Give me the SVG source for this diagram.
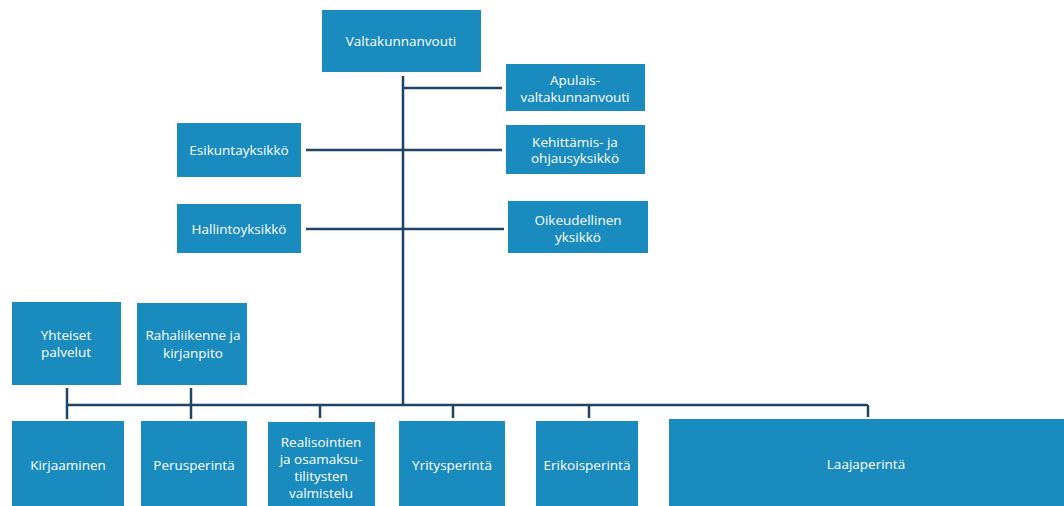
<svg xmlns="http://www.w3.org/2000/svg" width="1064" height="506" viewBox="0 0 1064 506">
<style>
.box{fill:#1a8bbf;}
.t{font-family:"Open Sans","Liberation Sans",sans-serif;font-size:13.5px;fill:#ffffff;text-anchor:middle;dominant-baseline:central;}
.ln{stroke:#1f4466;stroke-width:2.5;fill:none;}
</style>
<rect width="1064" height="506" fill="#ffffff"/>
<g id="connectors">
<path class="ln" d="M403,76 V405"/>
<path class="ln" d="M403,88 H502"/>
<path class="ln" d="M306,150 H502"/>
<path class="ln" d="M306,229 H504"/>
<path class="ln" d="M67,405 H868"/>
<path class="ln" d="M67,388 V419"/>
<path class="ln" d="M191,388 V419"/>
<path class="ln" d="M320,405 V418"/>
<path class="ln" d="M453,405 V418"/>
<path class="ln" d="M589,405 V418"/>
<path class="ln" d="M868,405 V417"/>
</g>
<g id="valtakunnanvouti"><rect class="box" x="322" y="10" width="159" height="62"/><text class="t" x="401" y="41">Valtakunnanvouti</text></g>
<g id="apulais"><rect class="box" x="506" y="64" width="139" height="47"/><text class="t" x="575" y="80">Apulais-</text><text class="t" x="575" y="97">valtakunnanvouti</text></g>
<g id="esikunta"><rect class="box" x="177" y="123" width="124" height="54"/><text class="t" x="239" y="150">Esikuntayksikkö</text></g>
<g id="kehittamis"><rect class="box" x="506" y="125" width="139" height="49"/><text class="t" x="575" y="142">Kehittämis- ja</text><text class="t" x="575" y="158">ohjausyksikkö</text></g>
<g id="hallinto"><rect class="box" x="177" y="204" width="124" height="49"/><text class="t" x="239" y="229">Hallintoyksikkö</text></g>
<g id="oikeudellinen"><rect class="box" x="508" y="201" width="140" height="52"/><text class="t" x="578" y="220">Oikeudellinen</text><text class="t" x="578" y="237">yksikkö</text></g>
<g id="yhteiset"><rect class="box" x="12" y="302" width="109" height="83"/><text class="t" x="66" y="335">Yhteiset</text><text class="t" x="66" y="352">palvelut</text></g>
<g id="rahaliikenne"><rect class="box" x="137" y="303" width="110" height="82"/><text class="t" x="193" y="335">Rahaliikenne ja</text><text class="t" x="193" y="353">kirjanpito</text></g>
<g id="kirjaaminen"><rect class="box" x="12" y="421" width="112" height="85"/><text class="t" x="68" y="465">Kirjaaminen</text></g>
<g id="perusperinta"><rect class="box" x="141" y="421" width="106" height="85"/><text class="t" x="194" y="465">Perusperintä</text></g>
<g id="realisointien"><rect class="box" x="268" y="422" width="107" height="84"/><text class="t" x="321" y="442">Realisointien</text><text class="t" x="321" y="459">ja osamaksu-</text><text class="t" x="321" y="476">tilitysten</text><text class="t" x="321" y="493">valmistelu</text></g>
<g id="yritysperinta"><rect class="box" x="399" y="421" width="106" height="85"/><text class="t" x="452" y="465">Yritysperintä</text></g>
<g id="erikoisperinta"><rect class="box" x="536" y="421" width="102" height="85"/><text class="t" x="587" y="465">Erikoisperintä</text></g>
<g id="laajaperinta"><rect class="box" x="669" y="419" width="395" height="87"/><text class="t" x="866" y="464">Laajaperintä</text></g>
</svg>
